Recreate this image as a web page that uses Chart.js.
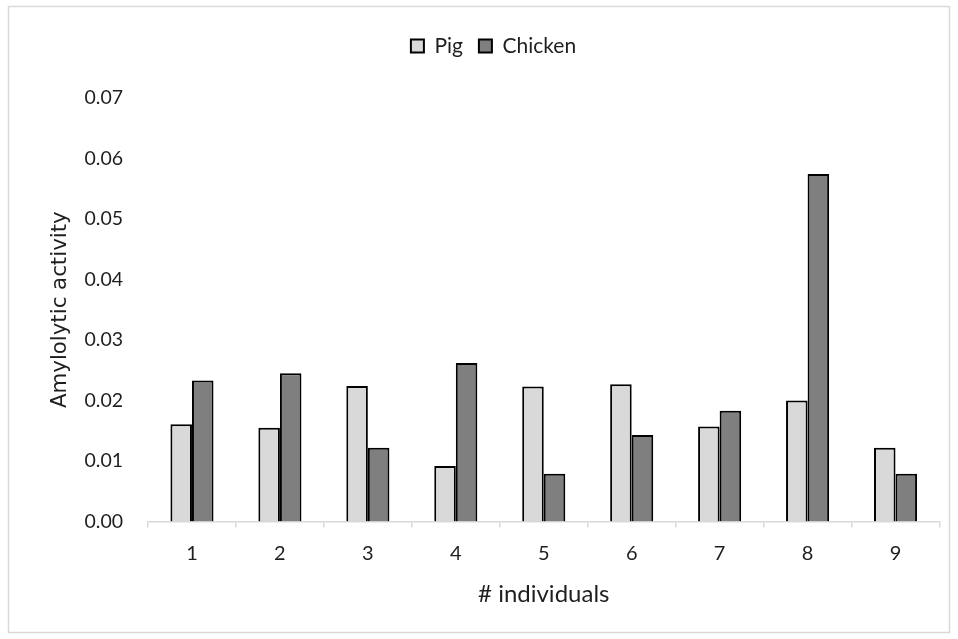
<!DOCTYPE html>
<html>
<head>
<meta charset="utf-8">
<script src="https://cdn.jsdelivr.net/npm/chart.js@4"></script>
<style>
  html, body { margin: 0; padding: 0; background: #ffffff; }
  #wrap { position: relative; width: 958px; height: 639px; }
</style>
</head>
<body>
<div id="wrap"><canvas id="c" width="958" height="639"></canvas></div>
<script>
const categories = ['1', '2', '3', '4', '5', '6', '7', '8', '9'];
const pigValues = [0.0161, 0.0155, 0.0224, 0.0092, 0.0223, 0.0227, 0.0157, 0.0200, 0.0122];
const chickenValues = [0.0233, 0.0245, 0.0122, 0.0262, 0.0079, 0.0143, 0.0183, 0.0574, 0.0079];
const yTickValues = [0, 0.01, 0.02, 0.03, 0.04, 0.05, 0.06, 0.07];
const seriesNames = ['Pig', 'Chicken'];
const xTitle = '# individuals';
const yTitle = 'Amylolytic activity';

const textColor = '#1f1f1f';
const calibriLike = 'Lato, "Open Sans", sans-serif';

const frame = {
  id: 'frame',
  beforeDraw(chart) {
    const ctx = chart.ctx;
    ctx.save();
    ctx.fillStyle = '#ffffff';
    ctx.fillRect(0, 0, chart.width, chart.height);
    ctx.strokeStyle = '#d9d9d9';
    ctx.lineWidth = 1.5;
    ctx.strokeRect(8.5, 6.5, 941, 626);
    ctx.restore();
  }
};

new Chart(document.getElementById('c'), {
  type: 'bar',
  data: {
    labels: categories,
    datasets: [
      {
        label: seriesNames[0],
        data: pigValues,
        backgroundColor: '#d9d9d9',
        borderColor: '#000000',
        borderWidth: 2
      },
      {
        label: seriesNames[1],
        data: chickenValues,
        backgroundColor: '#7f7f7f',
        borderColor: '#000000',
        borderWidth: 2
      }
    ]
  },
  options: {
    responsive: false,
    devicePixelRatio: 1,
    animation: false,
    layout: { padding: { left: 47.5, right: 18.5, top: 16.4, bottom: 10 } },
    datasets: { bar: { barPercentage: 1.0, categoryPercentage: 0.49 } },
    plugins: {
      tooltip: { enabled: false },
      legend: {
        position: 'top',
        align: 'center',
        weight: 1000,
        labels: {
          boxWidth: 13,
          boxHeight: 13,
          padding: 16,
          color: textColor,
          font: { family: calibriLike, size: 21 }
        }
      },
      title: {
        display: true,
        text: '',
        position: 'top',
        weight: 500,
        font: { size: 10, lineHeight: 1.2 },
        padding: { top: 0, bottom: 19.2 }
      }
    },
    scales: {
      x: {
        grid: {
          display: true,
          drawOnChartArea: false,
          drawTicks: true,
          tickLength: 6,
          offset: true,
          color: '#d9d9d9',
          lineWidth: 1.5
        },
        border: { display: true, color: '#d9d9d9', width: 1.5 },
        ticks: {
          color: textColor,
          padding: 14,
          maxRotation: 0,
          font: { family: calibriLike, size: 20 }
        },
        title: {
          display: true,
          text: xTitle,
          color: textColor,
          padding: { top: 0, bottom: 20 },
          font: { family: calibriLike, size: 24 }
        },
        afterFit(scale) { scale.height = 639 - 10 - 521.6; }
      },
      y: {
        min: 0,
        max: 0.07,
        grid: { display: false, drawTicks: false },
        border: { display: false },
        afterBuildTicks(scale) { scale.ticks = yTickValues.map(v => ({ value: v })); },
        ticks: {
          color: textColor,
          padding: 25,
          font: { family: calibriLike, size: 19.5 },
          callback: v => Number(v).toFixed(2)
        },
        title: {
          display: true,
          text: yTitle,
          color: textColor,
          padding: { top: 0, bottom: 0 },
          font: { family: '"DejaVu Sans", sans-serif', size: 21.3 }
        },
        afterFit(scale) {
          scale.width = 148 - 47.5;
          scale.paddingTop = 97.8;
        }
      }
    }
  },
  plugins: [frame]
});
</script>
</body>
</html>
